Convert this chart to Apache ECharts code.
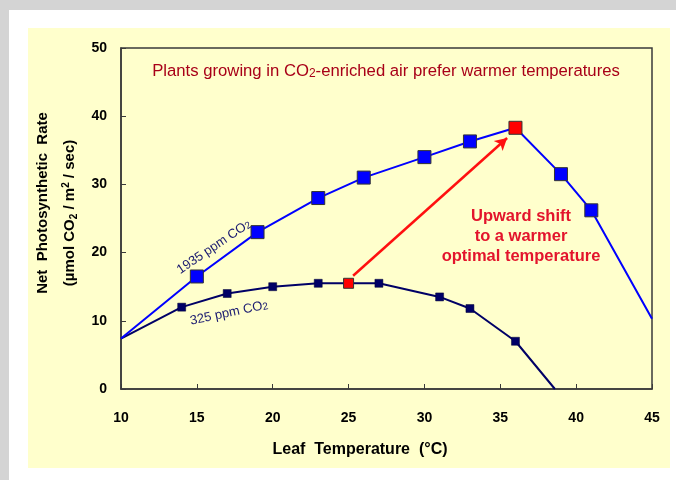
<!DOCTYPE html>
<html>
<head>
<meta charset="utf-8">
<script src="https://cdn.jsdelivr.net/npm/echarts@6/dist/echarts.min.js"></script>
<style>
html,body{margin:0;padding:0;background:#d4d4d4;}
#c{width:676px;height:480px;}
</style>
</head>
<body>
<div id="c"></div>
<script>
// Data
var temps1935 = [10, 15, 19, 23, 26, 30, 33, 36, 39, 41, 45];
var rate1935  = [7.4, 16.5, 23, 28, 31, 34, 36.3, 38.3, 31.5, 26.2, 10.3];
var temps325  = [10, 14, 17, 20, 23, 25, 27, 31, 33, 36, 38.6];
var rate325   = [7.4, 12, 14, 15, 15.5, 15.5, 15.5, 13.5, 11.8, 7, 0];
var xTicks = [10, 15, 20, 25, 30, 35, 40, 45];
var yTicks = [0, 10, 20, 30, 40, 50];
var optimum1935 = 36;   // highlighted (red) point of 1935 ppm curve
var optimum325 = 25;    // highlighted (red) point of 325 ppm curve
var arrowFrom = [25.3, 16.6];
var arrowTo = [35.45, 36.8];

var FONT = "'Liberation Sans', Arial, sans-serif";

function buildData(xs, ys, hiX, hiSize, noMarkerIdx) {
  return xs.map(function (x, i) {
    var item = { value: [x, ys[i]] };
    if (noMarkerIdx.indexOf(i) >= 0) {
      item.symbol = 'none';
    }
    if (x === hiX) {
      item.itemStyle = { color: '#ff0000', borderColor: '#333333', borderWidth: 1 };
      item.symbolSize = hiSize;
    }
    return item;
  });
}

var chart = echarts.init(document.getElementById('c'), null, { renderer: 'canvas' });
var option = {
  backgroundColor: 'transparent',
  animation: false,
  title: {
    text: '{a|Plants growing in CO}{s|2}{a|-enriched air prefer warmer temperatures}',
    left: 381,
    top: 58,
    textAlign: 'center',
    textStyle: {
      fontWeight: 'normal',
      rich: {
        a: { fontFamily: FONT, fontSize: 16.7, fontWeight: 'normal', color: '#a80018' },
        s: { fontFamily: FONT, fontSize: 12, fontWeight: 'normal', color: '#a80018', verticalAlign: 'bottom', padding: [3, 0, 0, 0] }
      }
    }
  },
  graphic: [
    { type: 'rect', shape: { x: 9, y: 10, width: 667, height: 470 }, style: { fill: '#ffffff' }, z: -10 },
    { type: 'rect', shape: { x: 28, y: 28, width: 642, height: 440 }, style: { fill: '#ffffcc' }, z: -9 },
    { type: 'text', x: 43, y: 203, rotation: Math.PI / 2, style: { text: 'Net  Photosynthetic  Rate', font: 'bold 15px ' + FONT, fill: '#000', textAlign: 'center', textVerticalAlign: 'middle' } },
    { type: 'text', x: 70, y: 213, rotation: Math.PI / 2, style: { text: '{a|(µmol CO}{s|2}{a| / m}{p|2}{a| / sec)}', fill: '#000', textAlign: 'center', textVerticalAlign: 'middle',
        rich: { a: { font: 'bold 15px ' + FONT }, s: { font: 'bold 10px ' + FONT, padding: [8, 0, 0, 0] }, p: { font: 'bold 10px ' + FONT, padding: [0, 0, 8, 0] } } } },
    { type: 'text', x: 360, y: 450, style: { text: 'Leaf  Temperature  (°C)', font: 'bold 16px ' + FONT, fill: '#000', textAlign: 'center', textVerticalAlign: 'middle' } },
    { type: 'text', x: 214, y: 247, rotation: 34 * Math.PI / 180, style: { text: '{a|1935 ppm CO}{s|2}', fill: '#1a1a70', textAlign: 'center', textVerticalAlign: 'middle',
        rich: { a: { font: '13px ' + FONT, fill: '#1a1a70' }, s: { font: '10px ' + FONT, fill: '#1a1a70', padding: [3, 0, 0, 0] } } } },
    { type: 'text', x: 229, y: 313, rotation: 12 * Math.PI / 180, style: { text: '{a|325 ppm CO}{s|2}', fill: '#1a1a70', textAlign: 'center', textVerticalAlign: 'middle',
        rich: { a: { font: '13px ' + FONT, fill: '#1a1a70' }, s: { font: '10px ' + FONT, fill: '#1a1a70', padding: [3, 0, 0, 0] } } } },
    { type: 'text', x: 521, y: 236, style: { text: 'Upward shift\nto a warmer\noptimal temperature', font: 'bold 16.5px ' + FONT, fill: '#e3142c', textAlign: 'center', textVerticalAlign: 'middle', lineHeight: 20 } }
  ],
  grid: {
    left: 121, right: 24, top: 48, bottom: 91,
    show: true, borderColor: '#3a3a3a', borderWidth: 1.5, backgroundColor: 'transparent'
  },
  xAxis: {
    type: 'value', min: xTicks[0], max: xTicks[xTicks.length - 1], interval: 5,
    axisLine: { lineStyle: { color: '#3a3a3a', width: 1.5 } },
    axisTick: { inside: true, length: 5, lineStyle: { color: '#3a3a3a' } },
    axisLabel: { fontFamily: FONT, fontSize: 14, fontWeight: 'bold', color: '#000', margin: 22 },
    splitLine: { show: false }
  },
  yAxis: {
    type: 'value', min: yTicks[0], max: yTicks[yTicks.length - 1], interval: 10,
    axisLine: { show: true, lineStyle: { color: '#3a3a3a', width: 1.5 } },
    axisTick: { show: true, inside: true, length: 5, lineStyle: { color: '#3a3a3a' } },
    axisLabel: { fontFamily: FONT, fontSize: 14, fontWeight: 'bold', color: '#000', margin: 14 },
    splitLine: { show: false }
  },
  series: [
    {
      name: '325 ppm CO2', type: 'line', data: buildData(temps325, rate325, optimum325, 10, [0, temps325.length - 1]),
      symbol: 'rect', symbolSize: 8,
      lineStyle: { color: '#000066', width: 2 },
      itemStyle: { color: '#000066', borderColor: '#000033', borderWidth: 0.5 },
      z: 3
    },
    {
      name: '1935 ppm CO2', type: 'line', data: buildData(temps1935, rate1935, optimum1935, 13, [0, temps1935.length - 1]),
      symbol: 'rect', symbolSize: 13,
      lineStyle: { color: '#0000ff', width: 2 },
      itemStyle: { color: '#0000ff', borderColor: '#333333', borderWidth: 1 },
      z: 4,
      markLine: {
        silent: true, symbol: ['none', 'arrow'], symbolSize: [10, 12],
        label: { show: false },
        lineStyle: { color: '#ff1010', width: 2.5, type: 'solid' },
        data: [[{ coord: arrowFrom }, { coord: arrowTo }]]
      }
    }
  ]
};
chart.setOption(option);
</script>
</body>
</html>
